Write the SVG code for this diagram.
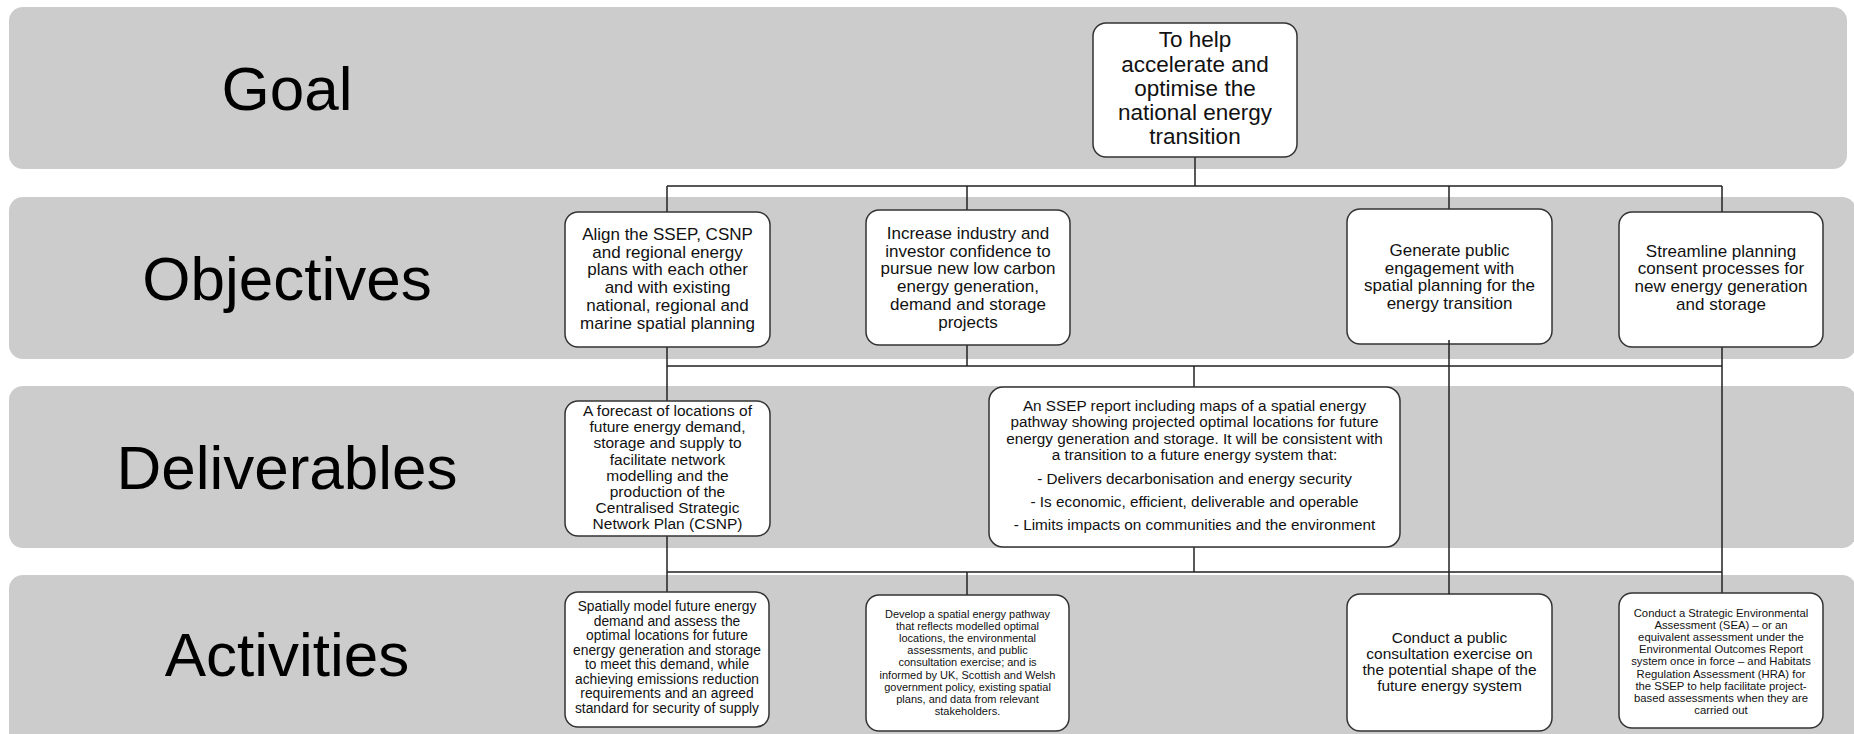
<svg xmlns="http://www.w3.org/2000/svg" width="1854" height="734" viewBox="0 0 1854 734">
<style>
.band{fill:#cccccc}
.lbl{font-family:"Liberation Sans",Arial,sans-serif;font-size:62px;fill:#000;text-anchor:middle}
.box{fill:#fff;stroke:#333;stroke-width:1.5}
.t{font-family:"Liberation Sans",Arial,sans-serif;fill:#111;text-anchor:middle}
.c{stroke:#222;stroke-width:1.5;fill:none}
</style>
<rect width="1854" height="734" fill="#fff"/>
<g id="bands">
<rect class="band" x="9" y="7" width="1838" height="162" rx="14"/>
<rect class="band" x="9" y="197" width="1847" height="162" rx="14"/>
<rect class="band" x="9" y="386" width="1847" height="162" rx="14"/>
<rect class="band" x="9" y="575" width="1847" height="172" rx="14"/>
<text class="lbl" x="287" y="110">Goal</text>
<text class="lbl" x="287" y="300">Objectives</text>
<text class="lbl" x="287" y="489">Deliverables</text>
<text class="lbl" x="287" y="676">Activities</text>
</g>
<g id="connectors">
<path class="c" d="M1195 157V186M667 186H1722M667 186V212M967 186V210M1449 186V209M1722 186V212"/>
<path class="c" d="M667 347V366M967 345V366M1722 347V366M667 366H1722M1194 366V387M667 366V401"/>
<path class="c" d="M667 536V592M1194 547V572M667 572H1722M967 572V595M1722 366V593"/>
</g>
<g id="goal">
<rect class="box" x="1093" y="23" width="204" height="134" rx="13"/>
<text class="t" font-size="22.5"><tspan x="1195" y="47">To help</tspan><tspan x="1195" y="71.5">accelerate and</tspan><tspan x="1195" y="95.5">optimise the</tspan><tspan x="1195" y="120">national energy</tspan><tspan x="1195" y="144">transition</tspan></text>
</g>
<g id="obj1">
<rect class="box" x="565" y="212" width="205" height="135" rx="13"/>
<text class="t" font-size="17"><tspan x="667.5" y="240">Align the SSEP, CSNP</tspan><tspan x="667.5" y="257.7">and regional energy</tspan><tspan x="667.5" y="275.4">plans with each other</tspan><tspan x="667.5" y="293.1">and with existing</tspan><tspan x="667.5" y="310.8">national, regional and</tspan><tspan x="667.5" y="328.5">marine spatial planning</tspan></text>
</g>
<g id="obj2">
<rect class="box" x="866" y="210" width="204" height="135" rx="13"/>
<text class="t" font-size="17"><tspan x="968" y="239">Increase industry and</tspan><tspan x="968" y="256.7">investor confidence to</tspan><tspan x="968" y="274.4">pursue new low carbon</tspan><tspan x="968" y="292.1">energy generation,</tspan><tspan x="968" y="309.8">demand and storage</tspan><tspan x="968" y="327.5">projects</tspan></text>
</g>
<g id="obj3">
<rect class="box" x="1347" y="209" width="205" height="135" rx="13"/>
<text class="t" font-size="17"><tspan x="1449.5" y="256">Generate public</tspan><tspan x="1449.5" y="273.7">engagement with</tspan><tspan x="1449.5" y="291.4">spatial planning for the</tspan><tspan x="1449.5" y="309.1">energy transition</tspan></text>
</g>
<g id="obj4">
<rect class="box" x="1619" y="212" width="204" height="135" rx="13"/>
<text class="t" font-size="17"><tspan x="1721" y="256.5">Streamline planning</tspan><tspan x="1721" y="274.2">consent processes for</tspan><tspan x="1721" y="291.9">new energy generation</tspan><tspan x="1721" y="309.6">and storage</tspan></text>
</g>
<g id="del1">
<rect class="box" x="565" y="401" width="205" height="135" rx="13"/>
<text class="t" font-size="15.5"><tspan x="667.5" y="416">A forecast of locations of</tspan><tspan x="667.5" y="432.2">future energy demand,</tspan><tspan x="667.5" y="448.4">storage and supply to</tspan><tspan x="667.5" y="464.6">facilitate network</tspan><tspan x="667.5" y="480.8">modelling and the</tspan><tspan x="667.5" y="497">production of the</tspan><tspan x="667.5" y="513.2">Centralised Strategic</tspan><tspan x="667.5" y="529.4">Network Plan (CSNP)</tspan></text>
</g>
<g id="del2">
<rect class="box" x="989" y="387" width="411" height="160" rx="14"/>
<text class="t" font-size="15.3"><tspan x="1194.5" y="411">An SSEP report including maps of a spatial energy</tspan><tspan x="1194.5" y="427.4">pathway showing projected optimal locations for future</tspan><tspan x="1194.5" y="443.8">energy generation and storage. It will be consistent with</tspan><tspan x="1194.5" y="460.2">a transition to a future energy system that:</tspan><tspan x="1194.5" y="484">- Delivers decarbonisation and energy security</tspan><tspan x="1194.5" y="507.2">- Is economic, efficient, deliverable and operable</tspan><tspan x="1194.5" y="529.5">- Limits impacts on communities and the environment</tspan></text>
</g>
<g id="act1">
<rect class="box" x="565" y="592" width="204" height="135" rx="13"/>
<text class="t" font-size="13.8"><tspan x="667" y="611">Spatially model future energy</tspan><tspan x="667" y="625.5">demand and assess the</tspan><tspan x="667" y="640">optimal locations for future</tspan><tspan x="667" y="654.5">energy generation and storage</tspan><tspan x="667" y="669">to meet this demand, while</tspan><tspan x="667" y="683.5">achieving emissions reduction</tspan><tspan x="667" y="698">requirements and an agreed</tspan><tspan x="667" y="712.5">standard for security of supply</tspan></text>
</g>
<g id="act2">
<rect class="box" x="866" y="595" width="203" height="136" rx="13"/>
<text class="t" font-size="11"><tspan x="967.5" y="618">Develop a spatial energy pathway</tspan><tspan x="967.5" y="630.1">that reflects modelled optimal</tspan><tspan x="967.5" y="642.2">locations, the environmental</tspan><tspan x="967.5" y="654.3">assessments, and public</tspan><tspan x="967.5" y="666.4">consultation exercise; and is</tspan><tspan x="967.5" y="678.5">informed by UK, Scottish and Welsh</tspan><tspan x="967.5" y="690.6">government policy, existing spatial</tspan><tspan x="967.5" y="702.7">plans, and data from relevant</tspan><tspan x="967.5" y="714.8">stakeholders.</tspan></text>
</g>
<g id="act3">
<rect class="box" x="1347" y="594" width="205" height="137" rx="13"/>
<text class="t" font-size="15.5"><tspan x="1449.5" y="642.5">Conduct a public</tspan><tspan x="1449.5" y="658.5">consultation exercise on</tspan><tspan x="1449.5" y="674.5">the potential shape of the</tspan><tspan x="1449.5" y="690.5">future energy system</tspan></text>
</g>
<g id="act4">
<rect class="box" x="1619" y="593" width="204" height="135" rx="13"/>
<text class="t" font-size="11.3"><tspan x="1721" y="617">Conduct a Strategic Environmental</tspan><tspan x="1721" y="629.1">Assessment (SEA) – or an</tspan><tspan x="1721" y="641.2">equivalent assessment under the</tspan><tspan x="1721" y="653.3">Environmental Outcomes Report</tspan><tspan x="1721" y="665.4">system once in force – and Habitats</tspan><tspan x="1721" y="677.5">Regulation Assessment (HRA) for</tspan><tspan x="1721" y="689.6">the SSEP to help facilitate project-</tspan><tspan x="1721" y="701.7">based assessments when they are</tspan><tspan x="1721" y="713.8">carried out</tspan></text>
</g>
<g id="connectors-over">
<path class="c" d="M1449 340V594"/>
</g>
</svg>
